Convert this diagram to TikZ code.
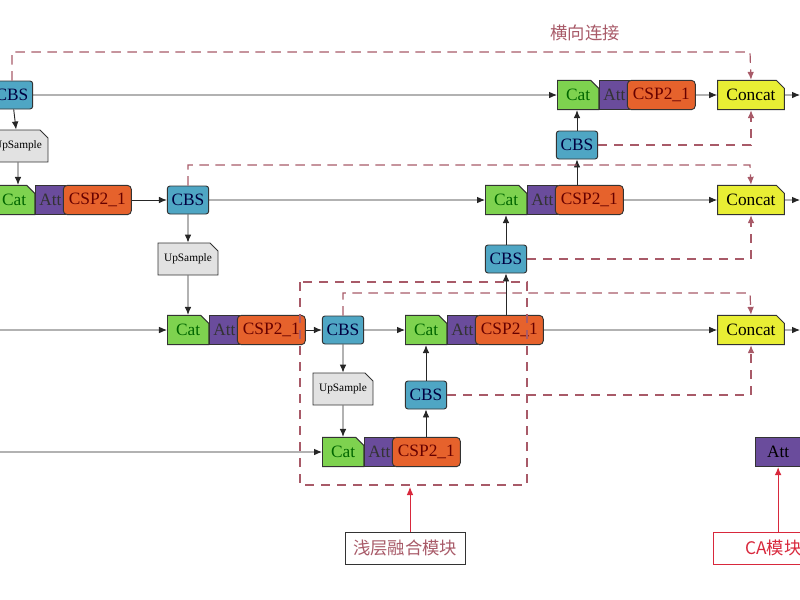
\documentclass[tikz,border=0pt]{standalone}
\usepackage{fontspec}
\setmainfont{Liberation Serif}
\newfontfamily\cjk{Noto Sans CJK SC}
\usetikzlibrary{positioning,shapes.misc,arrows.meta}

\definecolor{cbsblue}{HTML}{4FA6C4}
\definecolor{catgreen}{HTML}{7ED24F}
\definecolor{attpurple}{HTML}{6A4C9C}
\definecolor{csporange}{HTML}{E6622C}
\definecolor{concatyellow}{HTML}{E8EE34}
\definecolor{upgray}{HTML}{E2E2E2}
\definecolor{linkred}{HTML}{A85A68}
\definecolor{notered}{HTML}{D8283C}

\begin{document}
\begin{tikzpicture}[x=0.75pt,y=-0.75pt,
	    blk/.style={draw=black!80, line width=0.7pt, minimum height=22pt, inner sep=1pt, font=\fontsize{13}{15}\selectfont},
	    cbs/.style={blk, fill=cbsblue, rounded corners=2pt, minimum width=31pt, minimum height=21pt, text=black!75!blue},
	    cat/.style={blk, chamfered rectangle, chamfered rectangle corners=north east, chamfered rectangle xsep=3pt, fill=catgreen, minimum width=31pt, text=black!60!green, anchor=west},
	    att/.style={blk, fill=attpurple, minimum width=22pt, right=0pt of #1, text=black!80},
	    csp/.style={blk, fill=csporange, rounded corners=3pt, minimum width=51pt, right=-2pt of #1, text=black!60!red},
	    concat/.style={blk, chamfered rectangle, chamfered rectangle corners=north east, chamfered rectangle xsep=3pt, fill=concatyellow, minimum width=50pt},
	    upsmp/.style={blk, chamfered rectangle, chamfered rectangle corners=north east, chamfered rectangle xsep=3pt, fill=upgray, minimum width=45pt, minimum height=24pt, font=\fontsize{8.5}{10}\selectfont},
	    flow/.style={-{Latex[length=6pt,width=5pt]}, line width=0.7pt, black!85},
	    link/.style={-{Latex[length=6pt,width=5pt]}, dashed, dash pattern=on 7pt off 5pt, line width=0.9pt, linkred},
	    note/.style={draw=notered, line width=0.7pt, inner xsep=6pt, minimum height=24pt, text=notered, font=\cjk\fontsize{13}{15}\selectfont}
	]
	\useasboundingbox (0,0) rectangle (800,600);

	% top row
	\node[cbs] (cbsA) at (12,95) {CBS};
	\node[upsmp] (upA) at (18,146) {UpSample};
	\node[cat] (catA) at (557,95) {Cat};
	\node[att=catA] (attA) {Att};
	\node[csp=attA] (cspA) {CSP2\_1};
	\node[concat] (concatA) at (751,95) {Concat};
	\node[cbs] (cbsF) at (577,145) {CBS};

	% second row
	\node[cat] (catB) at (-7,200) {Cat};
	\node[att=catB] (attB) {Att};
	\node[csp=attB] (cspB) {CSP2\_1};
	\node[cbs] (cbsB) at (188,200) {CBS};
	\node[upsmp] (upB) at (188,259) {UpSample};
	\node[cat] (catE) at (485,200) {Cat};
	\node[att=catE] (attE) {Att};
	\node[csp=attE] (cspE) {CSP2\_1};
	\node[concat] (concatB) at (751,200) {Concat};
	\node[cbs] (cbsE) at (506,259) {CBS};

	% third row
	\node[cat] (catC) at (167,330) {Cat};
	\node[att=catC] (attC) {Att};
	\node[csp=attC] (cspC) {CSP2\_1};
	\node[cbs] (cbsC) at (343,330) {CBS};
	\node[upsmp] (upC) at (343,389) {UpSample};
	\node[cat] (catG) at (405,330) {Cat};
	\node[att=catG] (attG) {Att};
	\node[csp=attG] (cspG) {CSP2\_1};
	\node[concat] (concatC) at (751,330) {Concat};
	\node[cbs] (cbsD) at (426,395) {CBS};

	% bottom row
	\node[cat] (catD) at (322,452) {Cat};
	\node[att=catD] (attD) {Att};
	\node[csp=attD] (cspD) {CSP2\_1};
	\node[blk, fill=attpurple, minimum width=34pt, anchor=west] (attCA) at (755,452) {Att};

	\coordinate (inC) at (0,330);
	\coordinate (inD) at (0,452);
	\coordinate (outA) at (800,95);
	\coordinate (outB) at (800,200);
	\coordinate (outC) at (800,330);

	% solid flow
	\draw[flow] (cbsA) -- (catA);
	\draw[flow] (cbsA) -- (upA);
	\draw[flow] (upA) -- (upA |- catB.north);
	\draw[flow] (cspB) -- (cbsB);
	\draw[flow] (cbsB) -- (catE);
	\draw[flow] (cbsB) -- (upB);
	\draw[flow] (upB) -- (catC.north -| upB);
	\draw[flow] (inC) -- (catC);
	\draw[flow] (cspC) -- (cbsC);
	\draw[flow] (cbsC) -- (catG);
	\draw[flow] (cbsC) -- (upC);
	\draw[flow] (upC) -- (catD.north -| upC);
	\draw[flow] (inD) -- (catD);
	\draw[flow] (cspD.north -| cbsD) -- (cbsD);
	\draw[flow] (cbsD) -- (catG.south -| cbsD);
	\draw[flow] (cspG.north -| cbsE) -- (cbsE);
	\draw[flow] (cbsE) -- (catE.south -| cbsE);
	\draw[flow] (cspE.north -| cbsF) -- (cbsF);
	\draw[flow] (cbsF) -- (catA.south -| cbsF);
	\draw[flow] (cspA) -- (concatA);
	\draw[flow] (cspE) -- (concatB);
	\draw[flow] (cspG) -- (concatC);
	\draw[flow] (concatA) -- (outA);
	\draw[flow] (concatB) -- (outB);
	\draw[flow] (concatC) -- (outC);

	% lateral links
	\draw[link] (cbsA.north) |- (750,52) -- (concatA.north);
	\draw[link] (cbsF.east) -| (concatA.south);
	\draw[link] (cbsB.north) |- (750,165) -- (concatB.north);
	\draw[link] (cbsE.east) -| (concatB.south);
	\draw[link] (cbsC.north) |- (750,293) -- (concatC.north);
	\draw[link] (cbsD.east) -| (concatC.south);
	\node[text=linkred, font=\cjk\fontsize{13}{15}\selectfont] (lbl) at (585,33) {横向连接};

	% fusion box
	\draw[linkred, dashed, dash pattern=on 7pt off 5pt, line width=0.9pt] (300,282) rectangle (527,485);
	\node[note, draw=black!80, text=linkred] (fuse) at (405,548) {浅层融合模块};
	\draw[-{Latex[length=6pt,width=5pt]}, notered, line width=0.7pt] (fuse.north -| 410,0) -- (410,487);
	\node[note, anchor=west, minimum width=90pt] (ca) at (713,548) {CA模块};
	\draw[-{Latex[length=6pt,width=5pt]}, notered, line width=0.7pt] (ca.north -| attCA) -- (attCA);
\end{tikzpicture}
\end{document}
